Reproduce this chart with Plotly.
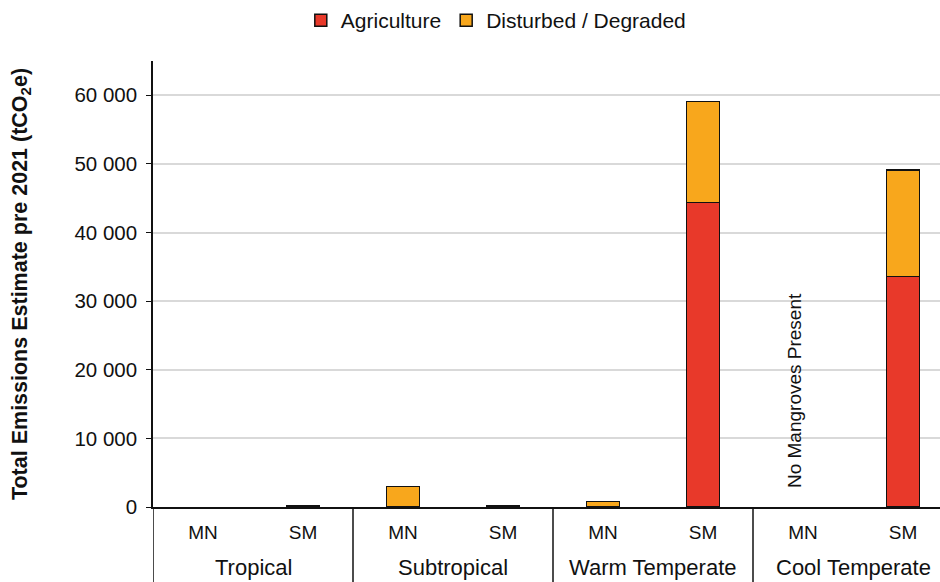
import plotly.graph_objects as go

# Climate zones and site types
zones = ["Tropical", "Tropical", "Subtropical", "Subtropical",
         "Warm Temperate", "Warm Temperate", "Cool Temperate", "Cool Temperate"]
sites = ["MN", "SM", "MN", "SM", "MN", "SM", "MN", "SM"]

# Emissions estimates (tCO2e)
agriculture = [0, 0, 0, 0, 0, 44400, 0, 33600]
disturbed = [0, 200, 3000, 120, 800, 14700, 0, 15500]

y_ticks = [0, 10000, 20000, 30000, 40000, 50000, 60000]

RED = "#E8392A"
ORANGE = "#F8A71C"
INK = "#111111"
FONT = "Liberation Sans, Arial, sans-serif"

keys = [f"{z} {s}" for z, s in zip(zones, sites)]
positions = list(range(len(keys)))


def nz(values):
    # empty stacks are left undrawn rather than shown as a flat outline
    return [v if v else None for v in values]


fig = go.Figure()
fig.add_trace(go.Bar(
    x=keys, y=nz(agriculture), name="Agriculture",
    marker=dict(color=RED, line=dict(color=INK, width=1.5)),
    width=0.33,
))
fig.add_trace(go.Bar(
    x=keys, y=nz(disturbed), name="Disturbed / Degraded",
    marker=dict(color=ORANGE, line=dict(color=INK, width=1.5)),
    width=0.33,
))

# Zone labels below the site labels, and dividers between zones
zone_order = list(dict.fromkeys(zones))
for zone in zone_order:
    idx = [p for p, z in zip(positions, zones) if z == zone]
    fig.add_annotation(
        x=sum(idx) / len(idx), y=-0.136, xref="x", yref="paper",
        text=zone, showarrow=False, yanchor="middle", xanchor="center",
        font=dict(size=22, color=INK, family=FONT),
    )
    fig.add_shape(
        type="line", xref="x", yref="paper",
        x0=idx[0] - 0.5, x1=idx[0] - 0.5, y0=0, y1=-0.2,
        line=dict(color=INK, width=1.5),
    )

fig.add_annotation(
    x=keys[6], y=2400, xref="x", yref="y", xshift=-9,
    text="No Mangroves Present", textangle=-90,
    showarrow=False, yanchor="bottom", xanchor="center",
    font=dict(size=19, color=INK, family=FONT),
)

fig.update_layout(
    barmode="stack",
    width=940, height=582,
    margin=dict(l=153, r=0, t=61, b=75),
    paper_bgcolor="white", plot_bgcolor="white",
    separators=". ",
    font=dict(family=FONT, size=18, color=INK),
    legend=dict(orientation="h", x=0.32, xanchor="left", xref="container",
                y=1.0, yanchor="top", yref="container",
                font=dict(size=21), traceorder="normal", itemwidth=30),
    showlegend=True,
)

fig.update_yaxes(
    range=[0, 65000], tickvals=y_ticks, tickformat=",d",
    showgrid=True, gridcolor="#D9D9D9", gridwidth=1.5,
    zeroline=False, showline=True, linecolor=INK, linewidth=1.5,
    ticks="outside", ticklen=5, tickcolor=INK,
    tickfont=dict(size=20.5), ticklabelstandoff=5,
    title=dict(text="<b>Total Emissions Estimate pre 2021 (tCO<sub>2</sub>e)</b>",
               font=dict(size=21.5), standoff=41),
)
fig.update_xaxes(
    type="category", range=[-0.5, 7.37],
    tickvals=keys, ticktext=sites,
    showline=True, linecolor=INK, linewidth=1.5,
    ticks="", tickfont=dict(size=19), ticklabelstandoff=7,
)

fig.write_html("out.html")
